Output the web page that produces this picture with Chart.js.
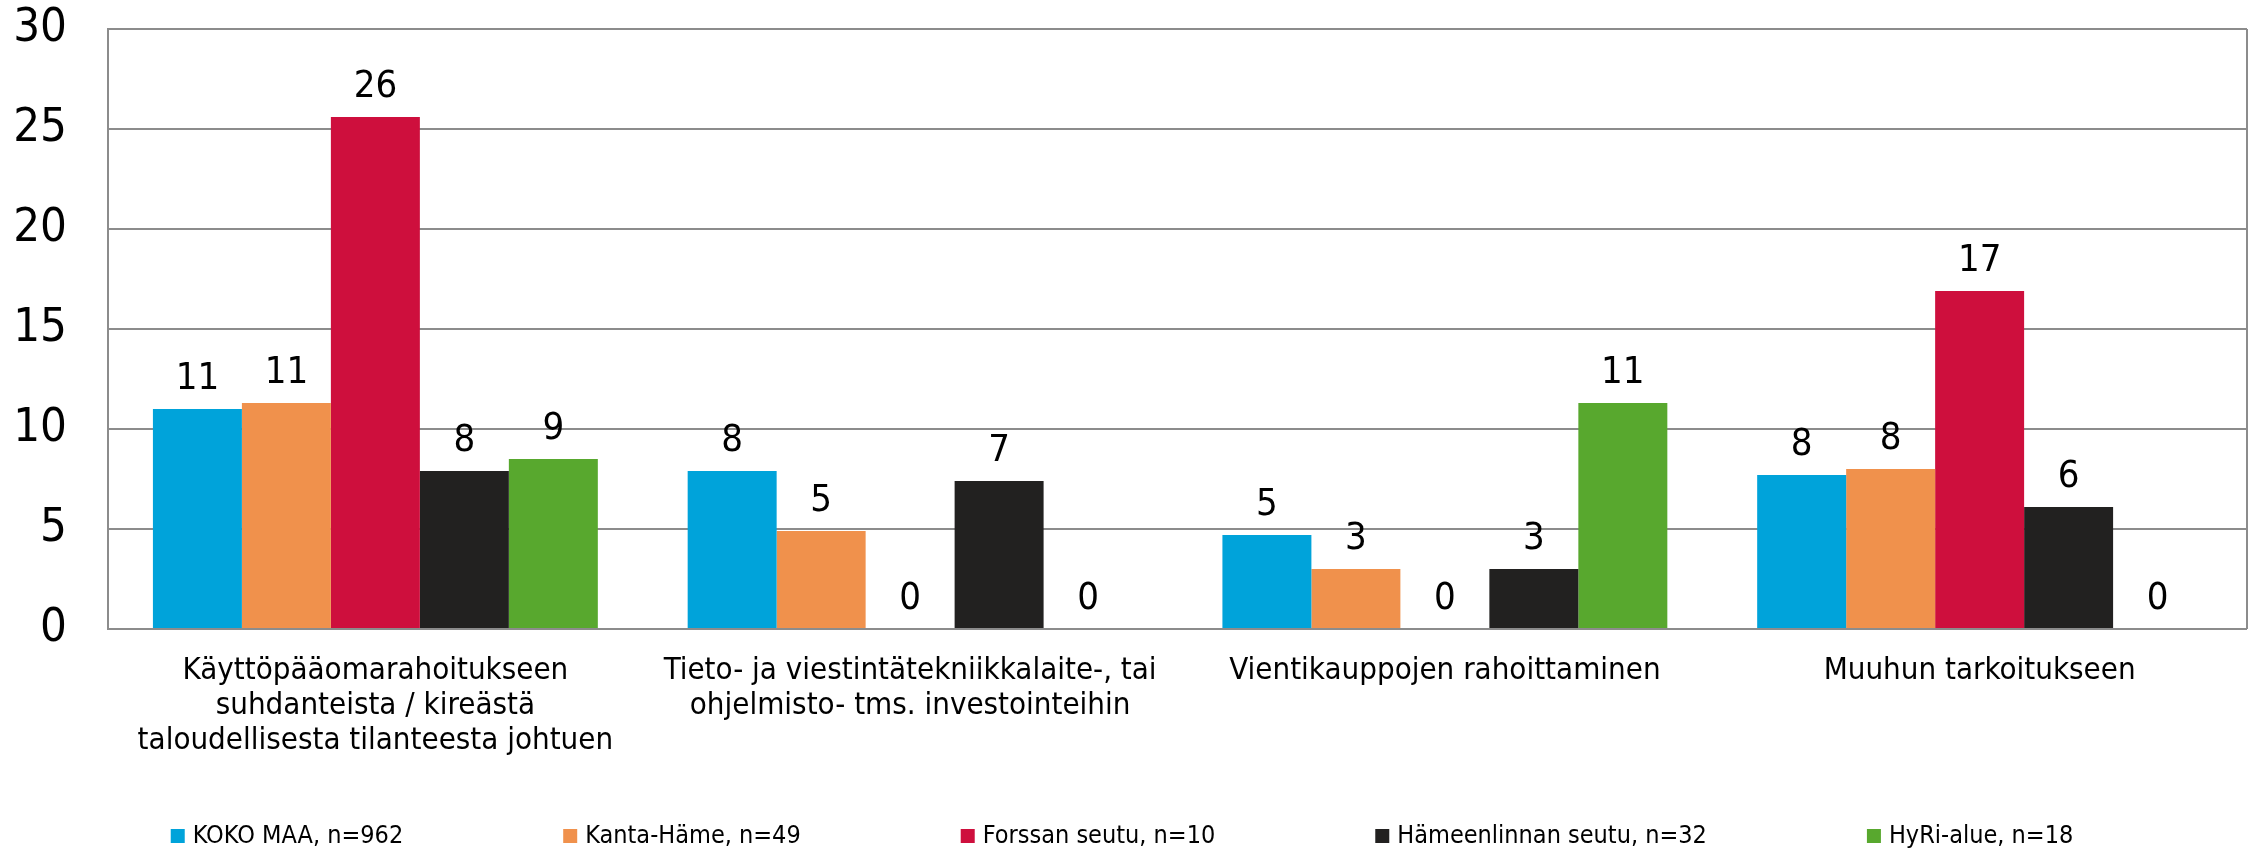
<!DOCTYPE html>
<html>
<head>
<meta charset="utf-8">
<script src="https://cdn.jsdelivr.net/npm/chart.js@4/dist/chart.umd.min.js"></script>
<style>
    html, body { margin: 0; padding: 0; background: #fff; }
    #wrap { width: 2257px; height: 850px; }
</style>
</head>
<body>
<div id="wrap"><canvas id="chart" width="2257" height="850"></canvas></div>
<script>
// Data
const categories = [
    ["Käyttöpääomarahoitukseen", "suhdanteista / kireästä", "taloudellisesta tilanteesta johtuen"],
    ["Tieto- ja viestintätekniikkalaite-, tai", "ohjelmisto- tms. investointeihin"],
    "Vientikauppojen rahoittaminen",
    "Muuhun tarkoitukseen"
];
const kokoMaa = [11.0, 7.9, 4.7, 7.7];
const kantaHame = [11.3, 4.9, 3.0, 8.0];
const forssa = [25.6, 0, 0, 16.9];
const hameenlinna = [7.9, 7.4, 3.0, 6.1];
const hyri = [8.5, 0, 11.3, 0];
const seriesNames = ["KOKO MAA, n=962", "Kanta-Häme, n=49", "Forssan seutu, n=10", "Hämeenlinnan seutu, n=32", "HyRi-alue, n=18"];
const seriesColors = ["#00a3da", "#f0914c", "#ce0f3d", "#222120", "#58a82e"];
const yTicks = [0, 5, 10, 15, 20, 25, 30];

const FONT = "'DejaVu Sans Condensed', 'DejaVu Sans', sans-serif";
const ctx = document.querySelector("#chart").getContext("2d");

//Value labels above the bars
const valueLabels = {
    id: "valueLabels",
    afterDatasetsDraw(chart) {
        const c = chart.ctx;
        c.save();
        c.font = "38px " + FONT;
        c.fillStyle = "#000";
        c.textAlign = "center";
        c.textBaseline = "alphabetic";
        chart.data.datasets.forEach((ds, i) => {
            chart.getDatasetMeta(i).data.forEach((bar, j) => {
                c.fillText(String(Math.round(ds.data[j])), bar.x, bar.y - 20);
            });
        });
        c.restore();
    }
};

//Right edge of the plot frame
const frame = {
    id: "frame",
    beforeDatasetsDraw(chart) {
        const a = chart.chartArea;
        const c = chart.ctx;
        c.save();
        c.strokeStyle = "#8c8c8c";
        c.lineWidth = 2;
        c.beginPath();
        c.moveTo(a.right, a.top);
        c.lineTo(a.right, a.bottom);
        c.stroke();
        c.restore();
    }
};

//Legend drawn by hand, wide gaps between the items
const bottomLegend = {
    id: "bottomLegend",
    afterDraw(chart) {
        const c = chart.ctx;
        const box = 14, gap = 8, spacing = 160, cy = 836;
        c.save();
        c.font = "25px " + FONT;
        c.textBaseline = "middle";
        c.textAlign = "left";
        const widths = chart.data.datasets.map(ds => box + gap + c.measureText(ds.label).width);
        const total = widths.reduce((s, w) => s + w, 0) + spacing * (widths.length - 1);
        let x = 1122 - total / 2;
        chart.data.datasets.forEach((ds, i) => {
            c.fillStyle = ds.backgroundColor;
            c.fillRect(x, cy - box / 2, box, box);
            c.fillStyle = "#000";
            c.fillText(ds.label, x + box + gap, cy);
            x += widths[i] + spacing;
        });
        c.restore();
    }
};

const seriesData = [kokoMaa, kantaHame, forssa, hameenlinna, hyri];

new Chart(ctx, {
    type: "bar",
    data: {
        labels: categories,
        datasets: seriesData.map((d, i) => ({
            label: seriesNames[i],
            data: d,
            backgroundColor: seriesColors[i],
            borderWidth: 0,
            categoryPercentage: 0.832,
            barPercentage: 1
        }))
    },
    options: {
        responsive: false,
        animation: false,
        layout: { padding: { top: 29, right: 10, bottom: 0, left: 0 } },
        plugins: {
            legend: { display: false },
            tooltip: { enabled: false }
        },
        scales: {
            x: {
                grid: { display: false, drawTicks: false },
                border: { display: false },
                ticks: {
                    color: "#000",
                    font: { family: FONT, size: 31, lineHeight: 1.13 },
                    padding: 24,
                    maxRotation: 0,
                    autoSkip: false
                },
                afterFit: s => { s.height = 221; s.paddingLeft = 0; s.paddingRight = 0; }
            },
            y: {
                min: 0,
                max: 30,
                afterBuildTicks: s => { s.ticks = yTicks.map(v => ({ value: v })); },
                grid: { color: "#8c8c8c", lineWidth: 2, drawTicks: false },
                border: { color: "#8c8c8c", width: 2 },
                ticks: {
                    color: "#000",
                    font: { family: FONT, size: 47 },
                    padding: 41
                },
                afterFit: s => { s.width = 108; s.paddingTop = 0; s.paddingBottom = 0; }
            }
        }
    },
    plugins: [frame, valueLabels, bottomLegend]
});
</script>
</body>
</html>
